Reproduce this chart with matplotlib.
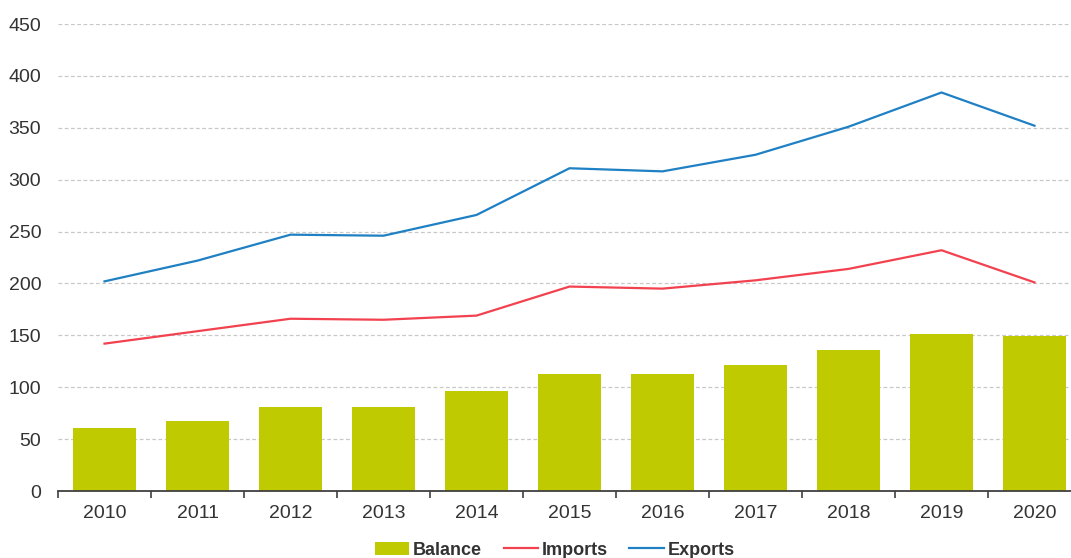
import numpy as np
import matplotlib
matplotlib.use("Agg")
import matplotlib.pyplot as plt

plt.rcParams['font.family'] = ['Liberation Sans', 'DejaVu Sans']

years = ["2010", "2011", "2012", "2013", "2014", "2015", "2016", "2017", "2018", "2019", "2020"]
balance = [61, 67, 81, 81, 96, 113, 113, 121, 136, 151, 149]
imports = [142, 154, 166, 165, 169, 197, 195, 203, 214, 232, 201]
exports = [202, 222, 247, 246, 266, 311, 308, 324, 351, 384, 352]

fig = plt.figure(figsize=(10.71, 5.58), dpi=100)
ax = fig.add_axes([58/1071, 1 - 491/558, 1023/1071, 467/558])

x = np.arange(len(years))
b = ax.bar(x, balance, width=0.67, color="#BFCA00", label="Balance", zorder=2)
l1, = ax.plot(x, imports, color="#F2424F", lw=1.6, label="Imports", zorder=3)
l2, = ax.plot(x, exports, color="#1F80C4", lw=1.6, label="Exports", zorder=3)

ax.set_xlim(-0.5, len(years) - 0.5)
ax.set_ylim(0, 450)
ax.set_yticks(range(0, 451, 50))
ax.set_xticks(x)
ax.set_xticklabels(years)
ax.set_xticks(np.arange(-0.5, len(years), 1), minor=True)

ax.grid(axis="y", color="#c8c8c8", linestyle=(0, (3, 2)), lw=0.9, zorder=0)
ax.set_axisbelow(True)
for s in ["top", "right", "left"]:
    ax.spines[s].set_visible(False)
ax.spines["bottom"].set_color("#404040")
ax.spines["bottom"].set_linewidth(1.3)
ax.spines["bottom"].set_zorder(4)

ax.tick_params(axis="y", length=0, pad=12, labelsize=14, labelcolor="#333333")
ax.tick_params(axis="x", which="major", length=0, pad=10, labelsize=14, labelcolor="#333333")
ax.tick_params(axis="x", which="minor", length=5, width=1.2, color="#404040")

fig.legend([b, l1, l2], ["Balance", "Imports", "Exports"],
           loc="center", bbox_to_anchor=(0.518, 0.014), ncol=3, frameon=False,
           prop={"size": 13, "weight": "bold"}, handlelength=1.9, handletextpad=0.2,
           columnspacing=1.2, labelcolor="#333333")

fig.savefig("out.png", dpi=100)
